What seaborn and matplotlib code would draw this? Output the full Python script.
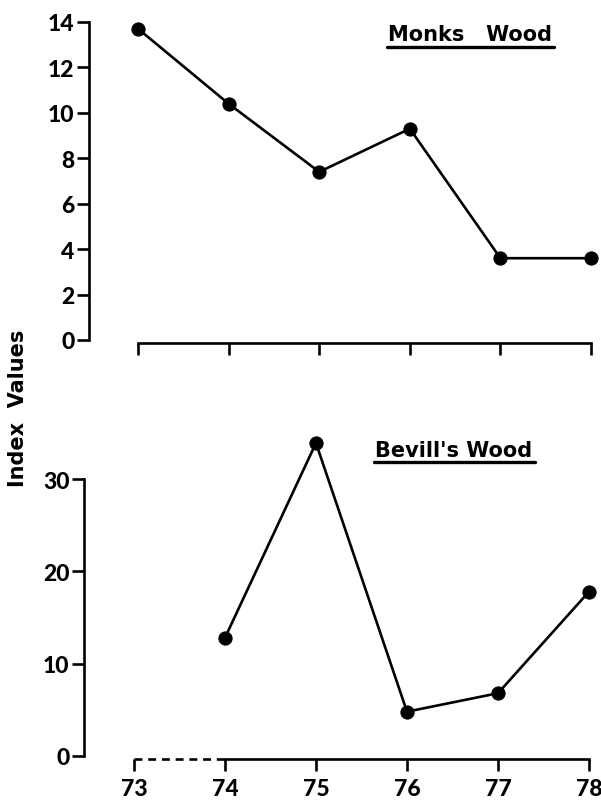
import matplotlib
matplotlib.use("Agg")
import matplotlib.pyplot as plt
import seaborn as sns
import pandas as pd
from matplotlib.lines import Line2D

# ---- data ----
years_all = [73, 74, 75, 76, 77, 78]
monks_years = [73, 74, 75, 76, 77, 78]
monks_values = [13.7, 10.4, 7.4, 9.3, 3.6, 3.6]
bevills_years = [74, 75, 76, 77, 78]
bevills_values = [12.8, 33.9, 4.8, 6.8, 17.8]
monks_yticks = [0, 2, 4, 6, 8, 10, 12, 14]
bevills_yticks = [0, 10, 20, 30]
xtick_labels = ["73", "74", "75", "76", "77", "78"]
title_top = "Monks   Wood"
title_bottom = "Bevill's Wood"
ylabel = "Index  Values"

sns.set_style("ticks")
TICKFONT = ["Lato", "DejaVu Sans"]
TEXTFONT = ["DejaVu Sans"]
plt.rcParams["font.family"] = TICKFONT
plt.rcParams["text.color"] = "black"

W, H = 601, 803
fig = plt.figure(figsize=(W / 100, H / 100), dpi=100)


def px_axes(left, right, top, bottom):
    return fig.add_axes([left / W, (H - bottom) / H, (right - left) / W, (bottom - top) / H])


LW = 1.9
ax1 = px_axes(89, 598, 20, 344)
ax2 = px_axes(84, 598, 430, 760)

df1 = pd.DataFrame({"year": monks_years, "value": monks_values})
df2 = pd.DataFrame({"year": bevills_years, "value": bevills_values})

for ax, df in ((ax1, df1), (ax2, df2)):
    sns.lineplot(data=df, x="year", y="value", ax=ax, color="black", linewidth=LW,
                 marker="o", markersize=9.5, markeredgecolor="black", clip_on=False)

ax1.set_xlim(72.459, 78.077)
ax1.set_ylim(-0.1325, 14.13)
ax2.set_xlim(72.451, 78.099)
ax2.set_ylim(-0.325, 35.42)

TS = 16.5
for ax in (ax1, ax2):
    for s in ("top", "right"):
        ax.spines[s].set_visible(False)
    for s in ("left", "bottom"):
        ax.spines[s].set_linewidth(LW)
        ax.spines[s].set_color("black")
    ax.set_xticks(years_all)
    ax.set_xlabel("")
    ax.set_ylabel("")
    ax.tick_params(axis="y", direction="out", length=9, width=LW, pad=1.5,
                   labelsize=TS, colors="black")
    ax.tick_params(axis="x", direction="out", length=8.6, width=LW, pad=5,
                   labelsize=TS, colors="black")

ax1.set_yticks(monks_yticks)
ax1.set_yticklabels([str(v) for v in monks_yticks], fontweight="black", fontsize=TS)
ax1.spines["left"].set_bounds(monks_yticks[0], monks_yticks[-1])
ax1.spines["bottom"].set_bounds(years_all[0], years_all[-1])
ax1.set_xticklabels([])

ax2.set_yticks(bevills_yticks)
ax2.set_yticklabels([str(v) for v in bevills_yticks], fontweight="black", fontsize=TS)
ax2.spines["left"].set_bounds(bevills_yticks[0], bevills_yticks[-1])
ax2.spines["bottom"].set_bounds(bevills_years[0], years_all[-1])
ax2.set_xticklabels(xtick_labels, fontweight="black", fontsize=TS)
# dashed part of the time axis before the first Bevill's Wood record
ax2.plot([years_all[0], bevills_years[0]], [0, 0], transform=ax2.get_xaxis_transform(),
         color="black", linewidth=LW, linestyle=(0, (3, 2.2)), clip_on=False)

# titles with underline
t1 = fig.text(469.5 / W, (H - 35) / H, title_top, ha="center", va="center",
              fontsize=15, fontweight="bold", family=TEXTFONT, color="black")
t2 = fig.text(454 / W, (H - 451) / H, title_bottom, ha="center", va="center",
              fontsize=15, fontweight="bold", family=TEXTFONT, color="black")
fig.text(18 / W, (H - 408) / H, ylabel, rotation=90, ha="center", va="center",
         fontsize=15, fontweight="bold", family=TEXTFONT, color="black")

fig.canvas.draw()
r = fig.canvas.get_renderer()
for t, uy in ((t1, 48), (t2, 463)):
    bb = t.get_window_extent(r)
    fig.add_artist(Line2D([(bb.x0 - 1) / W, (bb.x1 + 2) / W], [(H - uy) / H] * 2,
                          transform=fig.transFigure, color="black", linewidth=2.4))

fig.savefig("out.png", dpi=100)
